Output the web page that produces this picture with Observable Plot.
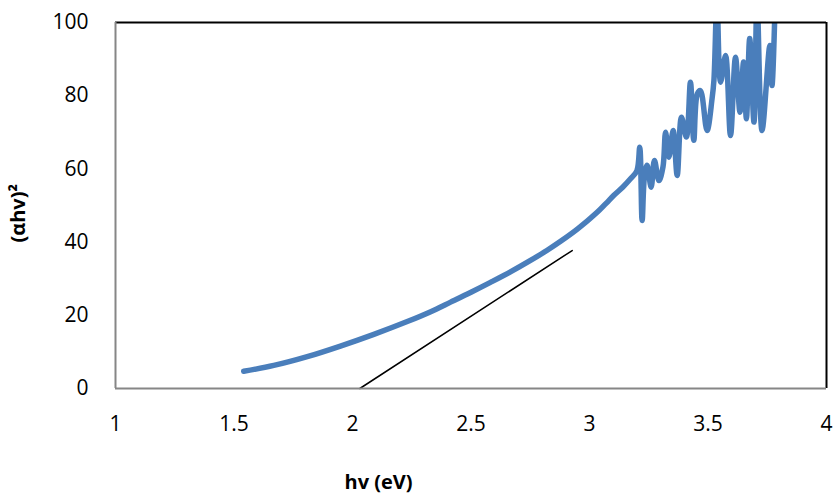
<!DOCTYPE html>
<html>
<head>
<meta charset="utf-8">
<script src="https://cdn.jsdelivr.net/npm/d3@7"></script>
<script src="https://cdn.jsdelivr.net/npm/@observablehq/plot@0.6"></script>
<style>
  html, body { margin: 0; padding: 0; background: #fff; }
  #chart { width: 834px; height: 493px; }
</style>
</head>
<body>
<div id="chart"></div>
<script>
// Photon energy hv (eV) and (αhv)²
const hv = [1.541, 1.668, 1.809, 1.949, 2.09, 2.231, 2.33, 2.414, 2.50, 2.582, 2.67, 2.751, 2.82, 2.878, 2.95, 3.03, 3.07, 3.103, 3.14, 3.173, 3.20,
  3.212, 3.222, 3.232, 3.243, 3.26, 3.274, 3.293, 3.31, 3.321, 3.335, 3.353, 3.37, 3.388, 3.409, 3.426, 3.44, 3.455, 3.468, 3.496, 3.517, 3.525,
  3.538, 3.553, 3.574, 3.595, 3.616, 3.635, 3.65, 3.662, 3.676, 3.694, 3.707, 3.728, 3.761, 3.77, 3.785];
const ahv2 = [4.7, 6.3, 8.7, 11.6, 14.8, 18.3, 21.0, 23.6, 26.3, 29.0, 32.0, 35.0, 37.7, 40.2, 43.6, 48.0, 50.6, 52.8, 55.0, 57.3, 59.5,
  65.9, 45.9, 58.0, 61.0, 55.0, 62.3, 56.8, 60.5, 70.0, 63.2, 70.5, 58.2, 74.1, 68.7, 83.7, 67.8, 80.5, 81.4, 70.5, 79.1, 84.2,
  106, 83.7, 91.0, 69.1, 90.5, 75.5, 89.2, 73.7, 95.6, 72.8, 106, 70.5, 93.7, 82.8, 110];

// Tangent (extrapolation) line
const tanX = [2.031, 2.927];
const tanY = [0, 37.7];

const xTicks = [1, 1.5, 2, 2.5, 3, 3.5, 4];
const yTicks = [0, 20, 40, 60, 80, 100];

const curve = hv.map((x, i) => ({x, y: ahv2[i]}));
const tangent = tanX.map((x, i) => ({x, y: tanY[i]}));

const chart = Plot.plot({
  width: 834,
  height: 493,
  marginLeft: 115,
  marginRight: 8,
  marginTop: 22,
  marginBottom: 105,
  style: {fontFamily: "'Open Sans', sans-serif", fontSize: "21px", color: "#000", background: "#fff"},
  x: {domain: [1, 4]},
  y: {domain: [0, 100]},
  marks: [
    Plot.line(curve, {x: "x", y: "y", curve: "catmull-rom", stroke: "#4a7ebb", strokeWidth: 5.5, strokeLinejoin: "round", strokeLinecap: "round", clip: true}),
    Plot.line(tangent, {x: "x", y: "y", stroke: "#000", strokeWidth: 1.5}),
    Plot.ruleY([100], {stroke: "#000", strokeWidth: 2}),
    Plot.ruleX([4], {stroke: "#000", strokeWidth: 2}),
    Plot.ruleX([1], {stroke: "#868686", strokeWidth: 2}),
    Plot.ruleY([0], {stroke: "#868686", strokeWidth: 2}),
    Plot.axisX({ticks: xTicks, tickSize: 0, tickPadding: 28, tickFormat: d => String(d), fontSize: 21, label: null}),
    Plot.axisY({ticks: yTicks, tickSize: 0, tickPadding: 27, fontSize: 21, label: null}),
    Plot.text(["hv (eV)"], {frameAnchor: "bottom", x: 2.11, dy: 100, text: d => d, fontWeight: "bold", fontSize: 20}),
    Plot.text(["(αhv)²"], {frameAnchor: "left", dx: -97, dy: 37, rotate: -90, text: d => d, fontWeight: "bold", fontSize: 20})
  ]
});
document.getElementById("chart").appendChild(chart);
</script>
</body>
</html>
